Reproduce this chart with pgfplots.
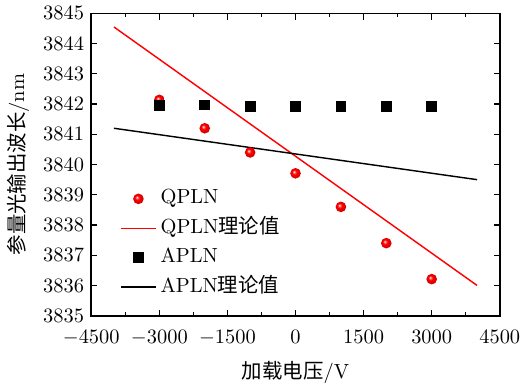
\documentclass[border=0pt]{standalone}
\usepackage{pgfplots}
\pgfplotsset{compat=1.18}
\usepackage{fontspec}
\newfontfamily\cjk{Noto Sans CJK SC}
\pgfdeclareradialshading{redball}{\pgfpoint{-8bp}{8bp}}{color(0bp)=(white); color(3bp)=(red!35!white); color(10bp)=(red); color(20bp)=(red!90!black); color(28bp)=(red!70!black); color(40bp)=(red!70!black)}
\pgfdeclareplotmark{redball}{\pgfpathcircle{\pgfpointorigin}{\pgfplotmarksize}\pgfshadepath{redball}{0}\pgfusepath{}}
\begin{document}
\begin{tikzpicture}
\begin{axis}[
  scale only axis,
  width=200pt, height=148pt,
  xmin=-4500, xmax=4500, ymin=3835, ymax=3845,
  xtick={-4500,-3000,...,4500},
  ytick={3835,3836,...,3845},
  minor x tick num=1, minor y tick num=1,
  major tick length=3pt, minor tick length=1.8pt,
  tick style={black, line width=0.6pt},
  axis line style={line width=0.8pt},
  xticklabel style={yshift=-3.5pt},
  xlabel style={yshift=-1pt},
  /pgf/number format/.cd, set thousands separator={}, /pgfplots/.cd,
  xlabel={{\cjk 加载电压}/V},
  ylabel={{\cjk 参量光输出波长}/nm},
  legend style={draw=none, fill=none, at={(0.055,0.45)}, anchor=north west, row sep=0pt, font=\normalsize,
    nodes={text height=7.5pt, text depth=2.5pt, inner ysep=2.2pt}},
  legend cell align=left,
]
\addplot[only marks, mark=redball, mark size=2.6pt, red] coordinates {
(-3000,3842.14) (-2000,3841.20) (-1000,3840.40) (0,3839.71) (1000,3838.60) (2000,3837.40) (3000,3836.21)};
\addlegendentry{QPLN}
\addplot[color=red, line width=0.7pt, legend image post style={draw=red}] coordinates {(-4000,3844.55) (4000,3836.0)};
\addlegendentry{QPLN{\cjk 理论值}}
\addplot[only marks, mark=square*, mark size=2.4pt, black] coordinates {
(-3000,3841.96) (-2000,3841.97) (-1000,3841.92) (0,3841.92) (1000,3841.92) (2000,3841.92) (3000,3841.92)};
\addlegendentry{APLN}
\addplot[black, line width=0.7pt] coordinates {(-4000,3841.20) (4000,3839.50)};
\addlegendentry{APLN{\cjk 理论值}}
\end{axis}
\end{tikzpicture}
\end{document}
